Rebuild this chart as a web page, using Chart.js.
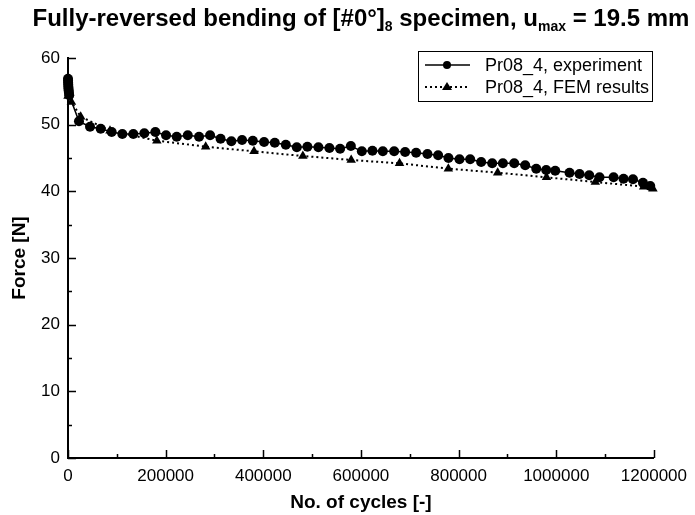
<!DOCTYPE html>
<html>
<head>
<meta charset="utf-8">
<script src="https://cdn.jsdelivr.net/npm/chart.js@4.4.0/dist/chart.umd.min.js"></script>
<style>
  html, body { margin: 0; padding: 0; background: #fff; }
  #wrap { width: 695px; height: 515px; }
</style>
</head>
<body>
<div id="wrap"><canvas id="forceChart" width="695" height="515"></canvas></div>
<script>
// measured points, Pr08_4 specimen
const expCycles = [0, 150, 300, 500, 700, 1000, 1400, 1900, 2500,
  22500, 45100, 67000, 89500, 111300, 133800, 156300, 178900, 200800, 222700,
  245300, 268400, 291000, 312500, 334600, 356500, 378500, 401600, 423500, 446100,
  468600, 490300, 512900, 535400, 557300, 579300, 601800, 623500, 644800, 668000,
  690500, 713000, 736200, 758100, 779200, 801800, 823700, 846200, 868800, 890700,
  913900, 936400, 959000, 979400, 997900, 1027200, 1047700, 1067500, 1088600,
  1117400, 1137800, 1157100, 1177600, 1192500];
const expForce = [56.9, 56.6, 56.3, 56.0, 55.7, 55.4, 55.1, 54.8, 54.4,
  50.5, 49.7, 49.4, 48.9, 48.6, 48.6, 48.7, 48.9, 48.4, 48.2,
  48.4, 48.2, 48.4, 47.9, 47.5, 47.7, 47.6, 47.4, 47.3, 47.0,
  46.6, 46.7, 46.6, 46.5, 46.4, 46.8, 46.0, 46.1, 46.0, 46.0,
  45.9, 45.8, 45.6, 45.4, 45.0, 44.8, 44.8, 44.4, 44.2, 44.2,
  44.2, 43.9, 43.4, 43.2, 43.1, 42.8, 42.6, 42.4, 42.1,
  42.1, 41.9, 41.8, 41.3, 40.8];

// FEM results
const femCycles = [0, 7000, 26000, 86000, 182000, 282000, 381000, 481000, 580000,
  679000, 779000, 880000, 980000, 1080000, 1179000, 1198000];
const femForce = [54.3, 53.4, 51.2, 49.1, 47.6, 46.7, 46.0, 45.3, 44.7,
  44.2, 43.4, 42.8, 42.1, 41.4, 40.7, 40.4];

const seriesNames = ['Pr08_4, experiment', 'Pr08_4, FEM results'];
const xMax = 1200000, xStep = 200000, xMinor = 100000;
const yMax = 60, yStep = 10, yMinor = 5;

const FONT = '"Liberation Sans", Arial, sans-serif';

function toPoints(xs, ys) {
  return xs.map((x, i) => ({ x: x, y: ys[i] }));
}

// title with subscripts
const titlePlugin = {
  id: 'subTitle',
  afterDraw(chart) {
    const ctx = chart.ctx;
    const parts = [
      ['Fully-reversed bending of [#0°]', false],
      ['8', true],
      [' specimen, u', false],
      ['max', true],
      [' = 19.5 mm', false]
    ];
    const big = 'bold 24px ' + FONT, small = 'bold 14px ' + FONT;
    ctx.save();
    ctx.fillStyle = '#000';
    ctx.textBaseline = 'alphabetic';
    let w = 0;
    parts.forEach(p => { ctx.font = p[1] ? small : big; w += ctx.measureText(p[0]).width; });
    const area = chart.chartArea;
    let x = (area.left + area.right) / 2 - w / 2;
    const y = 26;
    parts.forEach(p => {
      ctx.font = p[1] ? small : big;
      ctx.fillText(p[0], x, p[1] ? y + 5 : y);
      x += ctx.measureText(p[0]).width;
    });
    ctx.restore();
  }
};

// inward major and minor tick marks
const tickPlugin = {
  id: 'inTicks',
  afterDraw(chart) {
    const ctx = chart.ctx;
    const xs = chart.scales.x, ys = chart.scales.y;
    const area = chart.chartArea;
    ctx.save();
    ctx.strokeStyle = '#000';
    ctx.lineWidth = 1.5;
    ctx.beginPath();
    for (let v = 0; v <= xMax; v += xMinor) {
      const px = Math.round(xs.getPixelForValue(v)) + 0.5;
      const len = v % xStep === 0 ? 8 : 4;
      ctx.moveTo(px, area.bottom);
      ctx.lineTo(px, area.bottom - len);
    }
    for (let v = 0; v <= yMax; v += yMinor) {
      const py = Math.round(ys.getPixelForValue(v)) + 0.5;
      const len = v % yStep === 0 ? 8 : 4;
      ctx.moveTo(area.left, py);
      ctx.lineTo(area.left + len, py);
    }
    ctx.stroke();
    ctx.restore();
  }
};

// boxed legend with line + marker samples
const legendPlugin = {
  id: 'boxLegend',
  afterDraw(chart) {
    const ctx = chart.ctx;
    const bx = 418, by = 51, bw = 234, bh = 50;
    ctx.save();
    ctx.fillStyle = '#fff';
    ctx.fillRect(bx, by, bw, bh);
    ctx.strokeStyle = '#000';
    ctx.lineWidth = 1;
    ctx.strokeRect(bx + 0.5, by + 0.5, bw, bh);
    ctx.font = '18px ' + FONT;
    ctx.textBaseline = 'middle';
    ctx.fillStyle = '#000';
    const rows = [by + 14, by + 36];
    // experiment row
    ctx.lineWidth = 1.5;
    ctx.setLineDash([]);
    ctx.beginPath();
    ctx.moveTo(425, rows[0]); ctx.lineTo(470, rows[0]); ctx.stroke();
    ctx.beginPath(); ctx.arc(447, rows[0], 4, 0, Math.PI * 2); ctx.fill();
    ctx.fillText(seriesNames[0], 485, rows[0] + 1);
    // FEM row
    ctx.lineWidth = 2;
    ctx.setLineDash([2, 3]);
    ctx.beginPath();
    ctx.moveTo(425, rows[1]); ctx.lineTo(470, rows[1]); ctx.stroke();
    ctx.setLineDash([]);
    ctx.beginPath();
    ctx.moveTo(447, rows[1] - 5); ctx.lineTo(452, rows[1] + 3); ctx.lineTo(442, rows[1] + 3);
    ctx.closePath(); ctx.fill();
    ctx.fillText(seriesNames[1], 485, rows[1] + 1);
    ctx.restore();
  }
};

const ctx = document.getElementById('forceChart').getContext('2d');
const forceChart = new Chart(ctx, {
  type: 'line',
  data: {
    datasets: [{
      label: seriesNames[0],
      data: toPoints(expCycles, expForce),
      borderColor: '#000',
      backgroundColor: '#000',
      borderWidth: 1.5,
      pointStyle: 'circle',
      pointRadius: 5,
      pointBorderWidth: 0,
      fill: false,
      tension: 0,
      clip: false
    }, {
      label: seriesNames[1],
      data: toPoints(femCycles, femForce),
      borderColor: '#000',
      backgroundColor: '#000',
      borderWidth: 2,
      borderDash: [2, 3],
      pointStyle: 'triangle',
      pointRadius: 5.5,
      pointBorderWidth: 0,
      fill: false,
      tension: 0,
      clip: false
    }]
  },
  options: {
    responsive: false,
    animation: false,
    layout: { padding: { top: 58, right: 39, left: 0, bottom: 0 } },
    plugins: {
      legend: { display: false },
      tooltip: { enabled: false }
    },
    scales: {
      x: {
        type: 'linear',
        min: 0,
        max: xMax,
        afterFit: s => { s.height = 57; },
        grid: { display: false, drawTicks: false },
        border: { display: true, color: '#000', width: 2 },
        ticks: {
          stepSize: xStep,
          padding: 8,
          maxRotation: 0,
          color: '#000',
          font: { family: FONT, size: 17 },
          callback: v => String(v)
        },
        title: {
          display: true,
          text: 'No. of cycles [-]',
          color: '#000',
          padding: { top: 0, bottom: 1 },
          font: { family: FONT, size: 19, weight: 'bold' }
        }
      },
      y: {
        min: 0,
        max: yMax,
        afterFit: s => { s.width = 68; },
        grid: { display: false, drawTicks: false },
        border: { display: true, color: '#000', width: 2 },
        ticks: {
          stepSize: yStep,
          padding: 8,
          color: '#000',
          font: { family: FONT, size: 17 },
          callback: v => String(v)
        },
        title: {
          display: true,
          text: 'Force [N]',
          color: '#000',
          padding: { top: 8, bottom: 0 },
          font: { family: FONT, size: 19, weight: 'bold' }
        }
      }
    }
  },
  plugins: [tickPlugin, legendPlugin, titlePlugin]
});
</script>
</body>
</html>
